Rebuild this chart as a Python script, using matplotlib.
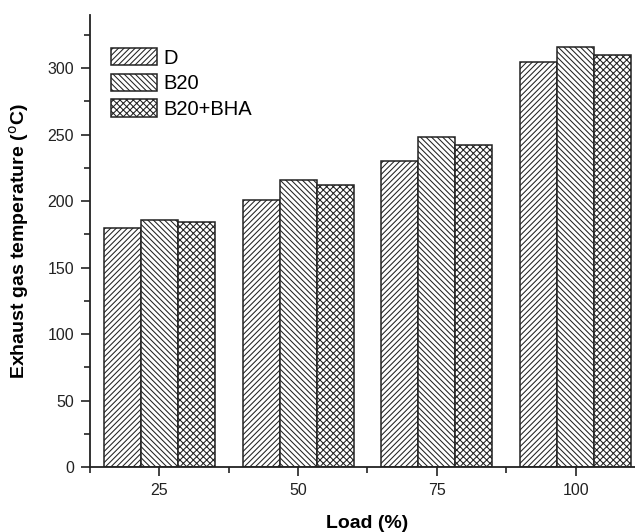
import numpy as np
import matplotlib
matplotlib.use('Agg')
import matplotlib.pyplot as plt
from matplotlib.ticker import MultipleLocator, FixedLocator

plt.rcParams.update({
    'font.family': ['Liberation Sans', 'DejaVu Sans'],
    'hatch.linewidth': 0.75,
    'hatch.color': '#3a3a3a',
})

loads = ['25', '50', '75', '100']
fuels = ['D', 'B20', 'B20+BHA']
temp_d = [180, 201, 230, 305]
temp_b20 = [186, 216, 248, 316]
temp_bha = [184, 212, 242, 310]
hatches = ['//////', '\\\\\\\\\\\\', 'xxxxx']

fig = plt.figure(figsize=(6.35, 5.32), dpi=100)
# axes run a little past the right edge, the way the figure was cropped
ax = fig.add_axes([0.1417, 0.1222, 0.874, 0.8496])

x = np.arange(1, len(loads) + 1)
w = 0.267
for k, (vals, h, lab) in enumerate(zip([temp_d, temp_b20, temp_bha], hatches, fuels)):
    ax.bar(x + (k - 1) * w, vals, width=w, facecolor='white', edgecolor='#222222',
           linewidth=1.1, hatch=h, label=lab, zorder=2)

ax.set_xlim(0.5, 4.5)
ax.set_ylim(0, 340)
ax.set_xticks(x)
ax.set_xticklabels(loads)
ax.xaxis.set_minor_locator(FixedLocator([0.5, 1.5, 2.5, 3.5, 4.5]))
ax.yaxis.set_major_locator(MultipleLocator(50))
ax.yaxis.set_minor_locator(MultipleLocator(25))

for s in ('top', 'right'):
    ax.spines[s].set_visible(False)
for s in ('left', 'bottom'):
    ax.spines[s].set_linewidth(1.3)
    ax.spines[s].set_color('#222222')

ax.tick_params(which='major', direction='out', length=6.5, width=1.2,
               labelsize=11.5, colors='#222222', pad=5)
ax.tick_params(which='minor', direction='out', length=4.3, width=1.2, colors='#222222')

ax.set_xlabel('Load (%)', fontsize=14, fontweight='bold', labelpad=12)
ax.set_ylabel('Exhaust gas temperature ($^{\\mathrm{o}}$C)', fontsize=14,
              fontweight='bold', labelpad=12)

ax.legend(loc='upper left', bbox_to_anchor=(111 / 635, 1 - 48 / 532),
          bbox_transform=fig.transFigure, frameon=False, fontsize=14.5,
          handlelength=2.3, handleheight=0.95, handletextpad=0.3,
          labelspacing=0.3, borderpad=0, borderaxespad=0)

fig.savefig('out.png', dpi=100)
